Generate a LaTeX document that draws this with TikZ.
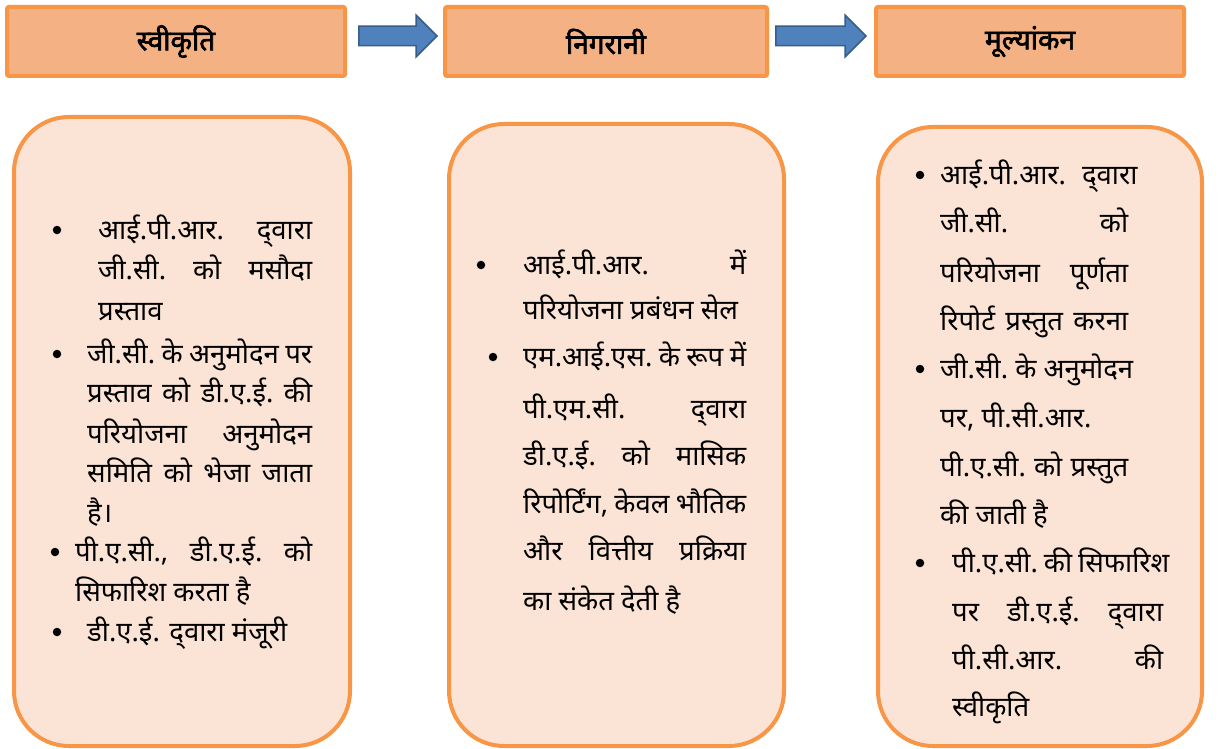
\documentclass[tikz,border=0pt]{standalone}
\usepackage{fontspec}
\setmainfont[Script=Devanagari, BoldFont={Noto Sans}, BoldFeatures={FakeBold=2.2}]{Noto Sans}
\usetikzlibrary{shapes.arrows}

\definecolor{hdrfill}{HTML}{F4B183}
\definecolor{boxedge}{HTML}{F79646}
\definecolor{panelfill}{HTML}{FBE4D5}
\definecolor{arrfill}{HTML}{4F81BD}
\definecolor{arredge}{HTML}{385D8A}

\newcommand{\jline}[2]{\hbox to #1pt{#2}}
% "dvaara" written with a visible halant
\newcommand{\dvara}{द्^^^^200cवारा}

\begin{document}
\begin{tikzpicture}[x=1pt,y=-1pt,
  hdr/.style={draw=boxedge, fill=hdrfill, line width=4pt, rounded corners=2pt,
    inner sep=0pt, font=\fontsize{28}{32}\selectfont\bfseries},
  panel/.style={draw=boxedge, fill=panelfill, line width=4pt, rounded corners=55pt, inner sep=0pt},
  blockarrow/.style={single arrow, draw=arredge, fill=arrfill, line width=1.5pt,
    inner sep=0pt, text height=0pt, text depth=0pt, inner ysep=9pt,
    single arrow head extend=11pt, anchor=tip},
  txt/.style={anchor=west, inner sep=0pt, text height=24pt, text depth=6pt,
    font=\fontsize{27.5}{32}\selectfont},
  bul/.style={circle, fill=black, inner sep=0pt, minimum size=8.5pt}
]
\useasboundingbox[fill=white] (0,0) rectangle (1220,749);

% stage headers
\node[hdr, minimum width=338pt, minimum height=69pt] (h1) at (176,41.5) {स्वीकृति};
\node[hdr, minimum width=322pt, minimum height=69pt] (h2) at (606,41.5) {निगरानी};
\node[hdr, minimum width=308pt, minimum height=69pt] (h3) at (1030,41.5) {मूल्यांकन};

% arrows between stages
\node[blockarrow, minimum height=78pt] (a1) at ([xshift=-5pt,yshift=5.5pt]h2.west) {};
\node[blockarrow, minimum height=90pt] (a2) at ([xshift=-7pt,yshift=5.5pt]h3.west) {};

% detail panels
\node[panel, minimum width=336pt, minimum height=629pt] (p1) at (182,431.5) {};
\node[panel, minimum width=335pt, minimum height=622pt] (p2) at (616.5,435) {};
\node[panel, minimum width=324pt, minimum height=619pt] (p3) at (1040,436.5) {};

% panel 1
\node[bul] (b11) at (57,230) {};
\node[txt] (t11) at (98,230) {\jline{214}{आई.पी.आर.\hfill \dvara}};
\node[txt] (t12) at (98,270) {\jline{214}{जी.सी.\hfill को\hfill मसौदा}};
\node[txt] (t13) at (98,311) {प्रस्ताव};
\node[bul] (b12) at (57,354) {};
\node[txt] (t14) at (87,354) {\jline{225}{जी.सी.\hfill के\hfill अनुमोदन\hfill पर}};
\node[txt] (t15) at (87,393) {\jline{225}{प्रस्ताव\hfill को\hfill डी.ए.ई.\hfill की}};
\node[txt] (t16) at (87,434) {\jline{225}{परियोजना\hfill अनुमोदन}};
\node[txt] (t17) at (87,473) {\jline{225}{समिति\hfill को\hfill भेजा\hfill जाता}};
\node[txt] (t18) at (87,513) {है।};
\node[bul] (b13) at (55,552) {};
\node[txt] (t19) at (75,552) {\jline{237}{पी.ए.सी.,\hfill डी.ए.ई.\hfill को}};
\node[txt] (t1a) at (75,592) {सिफारिश करता है};
\node[bul] (b14) at (57,632) {};
\node[txt] (t1b) at (87,632) {डी.ए.ई. \dvara{} मंजूरी};

% panel 2
\node[bul] (b21) at (481,265) {};
\node[txt] (t21) at (523,265) {\jline{223}{आई.पी.आर.\hfill में}};
\node[txt] (t22) at (523,310) {परियोजना प्रबंधन सेल};
\node[bul] (b22) at (493,357) {};
\node[txt] (t23) at (523,357) {\jline{223}{एम.आई.एस.\hfill के\hfill रूप\hfill में}};
\node[txt] (t24) at (523,409) {\jline{223}{पी.एम.सी.\hfill \dvara}};
\node[txt] (t25) at (523,456) {\jline{223}{डी.ए.ई.\hfill को\hfill मासिक}};
\node[txt] (t26) at (523,504) {\jline{223}{रिपोर्टिंग,\hfill केवल\hfill भौतिक}};
\node[txt] (t27) at (523,551) {\jline{223}{और\hfill वित्तीय\hfill प्रक्रिया}};
\node[txt] (t28) at (523,601) {का संकेत देती है};

% panel 3
\node[bul] (b31) at (920,175) {};
\node[txt] (t31) at (940,175) {आई.पी.आर.\hskip 16pt \dvara};
\node[txt] (t32) at (940,223) {\jline{188}{जी.सी.\hfill को}};
\node[txt] (t33) at (940,273) {\jline{188}{परियोजना\hfill पूर्णता}};
\node[txt] (t34) at (940,321) {\jline{188}{रिपोर्ट\hfill प्रस्तुत\hfill करना}};
\node[bul] (b32) at (920,369) {};
\node[txt] (t35) at (940,369) {\jline{193}{जी.सी.\hfill के\hfill अनुमोदन}};
\node[txt] (t36) at (940,418) {पर, पी.सी.आर.};
\node[txt] (t37) at (940,467) {\jline{188}{पी.ए.सी.\hfill को\hfill प्रस्तुत}};
\node[txt] (t38) at (940,515) {की जाती है};
\node[bul] (b33) at (920,563) {};
\node[txt] (t39) at (952,563) {पी.ए.सी.\hskip 6pt की\hskip 6pt सिफारिश};
\node[txt] (t3a) at (952,612) {\jline{211}{पर\hfill डी.ए.ई.\hfill \dvara}};
\node[txt] (t3b) at (952,660) {\jline{211}{पी.सी.आर.\hfill की}};
\node[txt] (t3c) at (952,707) {स्वीकृति};
\end{tikzpicture}
\end{document}
